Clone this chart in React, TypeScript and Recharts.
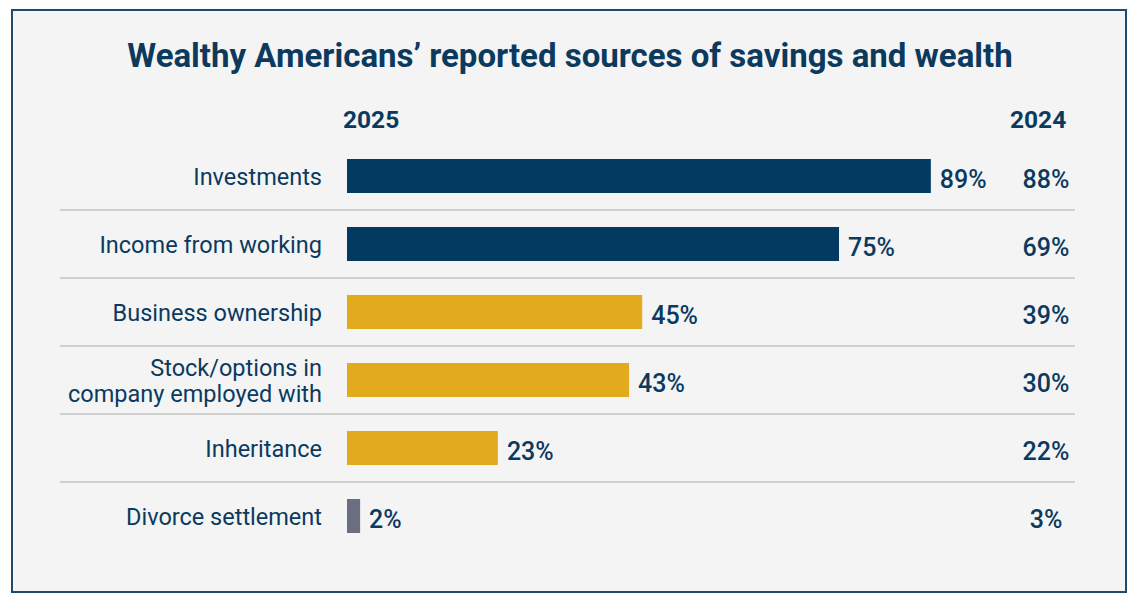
import { Bar, BarChart, Cell, LabelList, XAxis, YAxis } from "recharts";

const categories = [
  "Investments",
  "Income from working",
  "Business ownership",
  "Stock/options in\ncompany employed with",
  "Inheritance",
  "Divorce settlement",
];
const values2025 = [89, 75, 45, 43, 23, 2];
const values2024 = [88, 69, 39, 30, 22, 3];
const barColors = ["#023a62", "#023a62", "#e2ab1d", "#e2ab1d", "#e2ab1d", "#6b6e80"];

const NAVY = "#0b3a5e";
const FONT = "Roboto, 'Liberation Sans', sans-serif";

const data = categories.map((name, i) => ({ name, v2025: values2025[i], v2024: values2024[i] }));

function CategoryTick(props: any) {
  const { x, y, payload, index } = props;
  const lines = String(payload.value).split("\n");
  const half = payload.offset ?? 34;
  return (
    <g>
      {lines.map((line, i) => (
        <text
          key={i}
          x={x - 25}
          y={y + (i - (lines.length - 1) / 2) * 26 + 1}
          textAnchor="end"
          dominantBaseline="central"
          fill={NAVY}
          fontSize={23.5}
          fontFamily={FONT}
        >
          {line}
        </text>
      ))}
      {index < categories.length - 1 && (
        <line x1={60} x2={1075} y1={y + half} y2={y + half} stroke="#cfcfcf" strokeWidth={2} />
      )}
    </g>
  );
}

function PrevYearLabel(props: any) {
  const { y, height, value } = props;
  return (
    <text
      x={1046}
      y={y + height / 2 + 3}
      textAnchor="middle"
      dominantBaseline="central"
      fill={NAVY}
      fontSize={25}
      fontWeight={500}
      fontFamily={FONT}
    >
      {`${value}%`}
    </text>
  );
}

function CurrentYearLabel(props: any) {
  const { x, y, width, height, value } = props;
  return (
    <text
      x={x + width + 9}
      y={y + height / 2 + 3}
      textAnchor="start"
      dominantBaseline="central"
      fill={NAVY}
      fontSize={25}
      fontWeight={500}
      fontFamily={FONT}
    >
      {`${value}%`}
    </text>
  );
}

export default function App() {
  return (
    <div style={{ position: "absolute", left: 0, top: 0, width: 1140, height: 603, background: "#fff", fontFamily: FONT }}>
      <div
        style={{
          position: "absolute",
          left: 11,
          top: 9,
          width: 1112,
          height: 580,
          border: "2px solid #1e4a6e",
          background: "#f4f4f4",
        }}
      />
      <div
        style={{
          position: "absolute",
          left: 0,
          top: 34,
          width: 1140,
          textAlign: "center",
          color: NAVY,
          fontSize: 33,
          fontWeight: 700,
          lineHeight: "44px",
        }}
      >
        Wealthy Americans’ reported sources of savings and wealth
      </div>
      <div style={{ position: "absolute", left: 343, top: 105, color: NAVY, fontSize: 24.5, fontWeight: 700, lineHeight: "30px" }}>
        2025
      </div>
      <div style={{ position: "absolute", left: 1010, top: 105, color: NAVY, fontSize: 24.5, fontWeight: 700, lineHeight: "30px" }}>
        2024
      </div>
      <div style={{ position: "absolute", left: 0, top: 0 }}>
        <BarChart
          width={1140}
          height={603}
          data={data}
          layout="vertical"
          margin={{ top: 142, right: 137, bottom: 53, left: 47 }}
          barCategoryGap={34}
        >
          <XAxis type="number" domain={[0, 100]} hide />
          <YAxis
            type="category"
            dataKey="name"
            width={300}
            axisLine={false}
            tickLine={false}
            tickSize={0}
            tickMargin={0}
            interval={0}
            tick={<CategoryTick />}
          />
          <Bar dataKey="v2025" barSize={34} isAnimationActive={false}>
            {data.map((_, i) => (
              <Cell key={i} fill={barColors[i]} />
            ))}
            <LabelList dataKey="v2025" content={<CurrentYearLabel />} />
            <LabelList dataKey="v2024" content={<PrevYearLabel />} />
          </Bar>
        </BarChart>
      </div>
    </div>
  );
}
